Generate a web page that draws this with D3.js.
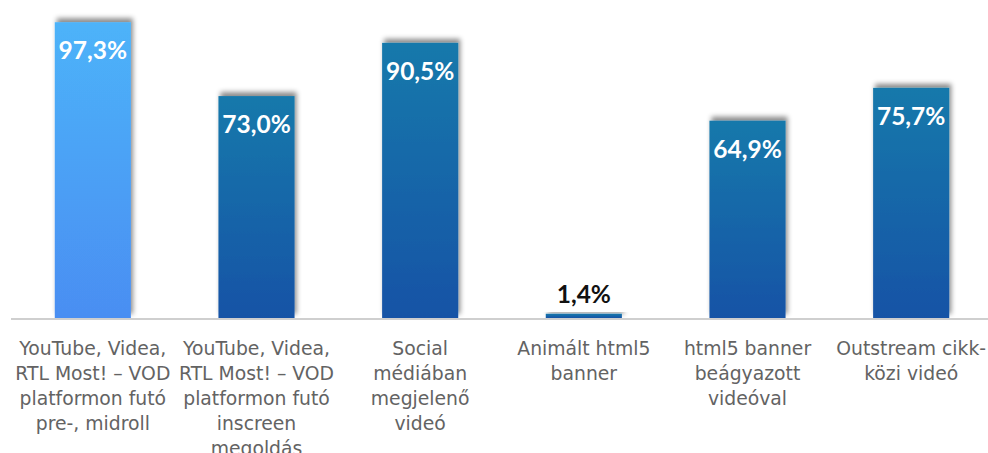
<!DOCTYPE html>
<html>
<head>
<meta charset="utf-8">
<script src="https://cdn.jsdelivr.net/npm/d3@7"></script>
<style>
  body { margin: 0; background: #fff; }
</style>
</head>
<body>
<svg id="chart" width="988" height="453"></svg>
<script>
const categories = [
  'YouTube, Videa,\nRTL Most! – VOD\nplatformon futó\npre-, midroll',
  'YouTube, Videa,\nRTL Most! – VOD\nplatformon futó\ninscreen\nmegoldás',
  'Social\nmédiában\nmegjelenő\nvideó',
  'Animált html5\nbanner',
  'html5 banner\nbeágyazott\nvideóval',
  'Outstream cikk-\nközi videó'
];
const values = [97.3, 73.0, 90.5, 1.4, 64.9, 75.7];
const highlight = [true, false, false, false, false, false];

const svg = d3.select('#chart');
const baseY = 318;

const defs = svg.append('defs');
const light = defs.append('linearGradient').attr('id', 'gLight')
  .attr('x1', 0).attr('y1', 0).attr('x2', 0).attr('y2', 1);
light.append('stop').attr('offset', '0%').attr('stop-color', '#4db3f9');
light.append('stop').attr('offset', '100%').attr('stop-color', '#4a8ef2');
const dark = defs.append('linearGradient').attr('id', 'gDark')
  .attr('x1', 0).attr('y1', 0).attr('x2', 0).attr('y2', 1);
dark.append('stop').attr('offset', '0%').attr('stop-color', '#1779ab');
dark.append('stop').attr('offset', '100%').attr('stop-color', '#1553a6');

const shadow = defs.append('filter').attr('id', 'shadow')
  .attr('x', '-20%').attr('y', '-20%').attr('width', '140%').attr('height', '140%');
shadow.append('feDropShadow')
  .attr('dx', 2).attr('dy', -4).attr('stdDeviation', 2.5)
  .attr('flood-color', '#000').attr('flood-opacity', 0.45);

const x = d3.scaleBand()
  .domain(d3.range(categories.length))
  .range([11, 993])
  .paddingInner(0.535)
  .paddingOuter(0.2675);

const y = d3.scaleLinear()
  .domain([0, 100])
  .range([baseY, 14]);

svg.append('g')
  .selectAll('rect')
  .data(values)
  .join('rect')
    .attr('x', (d, i) => x(i))
    .attr('y', d => y(d))
    .attr('width', x.bandwidth())
    .attr('height', d => baseY - y(d))
    .attr('fill', (d, i) => highlight[i] ? 'url(#gLight)' : 'url(#gDark)')
    .attr('filter', 'url(#shadow)');

// axis line
const axis = svg.append('g').attr('transform', `translate(0, ${baseY + 1})`)
  .call(d3.axisBottom(x).tickSize(0).tickFormat(''));
axis.select('.domain')
  .attr('d', 'M11,0H988')
  .attr('stroke', '#bfbfbf')
  .attr('stroke-width', 1.5);

// value labels
svg.append('g')
  .selectAll('text')
  .data(values)
  .join('text')
    .attr('x', (d, i) => x(i) + x.bandwidth() / 2)
    .attr('y', d => d < 10 ? y(d) - 11 : y(d) + 37)
    .attr('text-anchor', 'middle')
    .attr('font-family', 'Lato, sans-serif')
    .attr('font-weight', 'bold')
    .attr('font-size', 24.5)
    .attr('fill', d => d < 10 ? '#111' : '#fff')
    .text(d => d.toFixed(1).replace('.', ',') + '%');

// category labels
const labels = svg.append('g')
  .selectAll('text')
  .data(categories)
  .join('text')
    .attr('x', (d, i) => x(i) + x.bandwidth() / 2)
    .attr('y', 355)
    .attr('text-anchor', 'middle')
    .attr('font-family', '"DejaVu Sans", sans-serif')
    .attr('font-size', 18.8)
    .attr('fill', '#636363');
labels.selectAll('tspan')
  .data(d => d.split('\n'))
  .join('tspan')
    .attr('x', function () { return this.parentNode.getAttribute('x'); })
    .attr('dy', (d, i) => i === 0 ? 0 : 25)
    .text(d => d);
</script>
</body>
</html>
